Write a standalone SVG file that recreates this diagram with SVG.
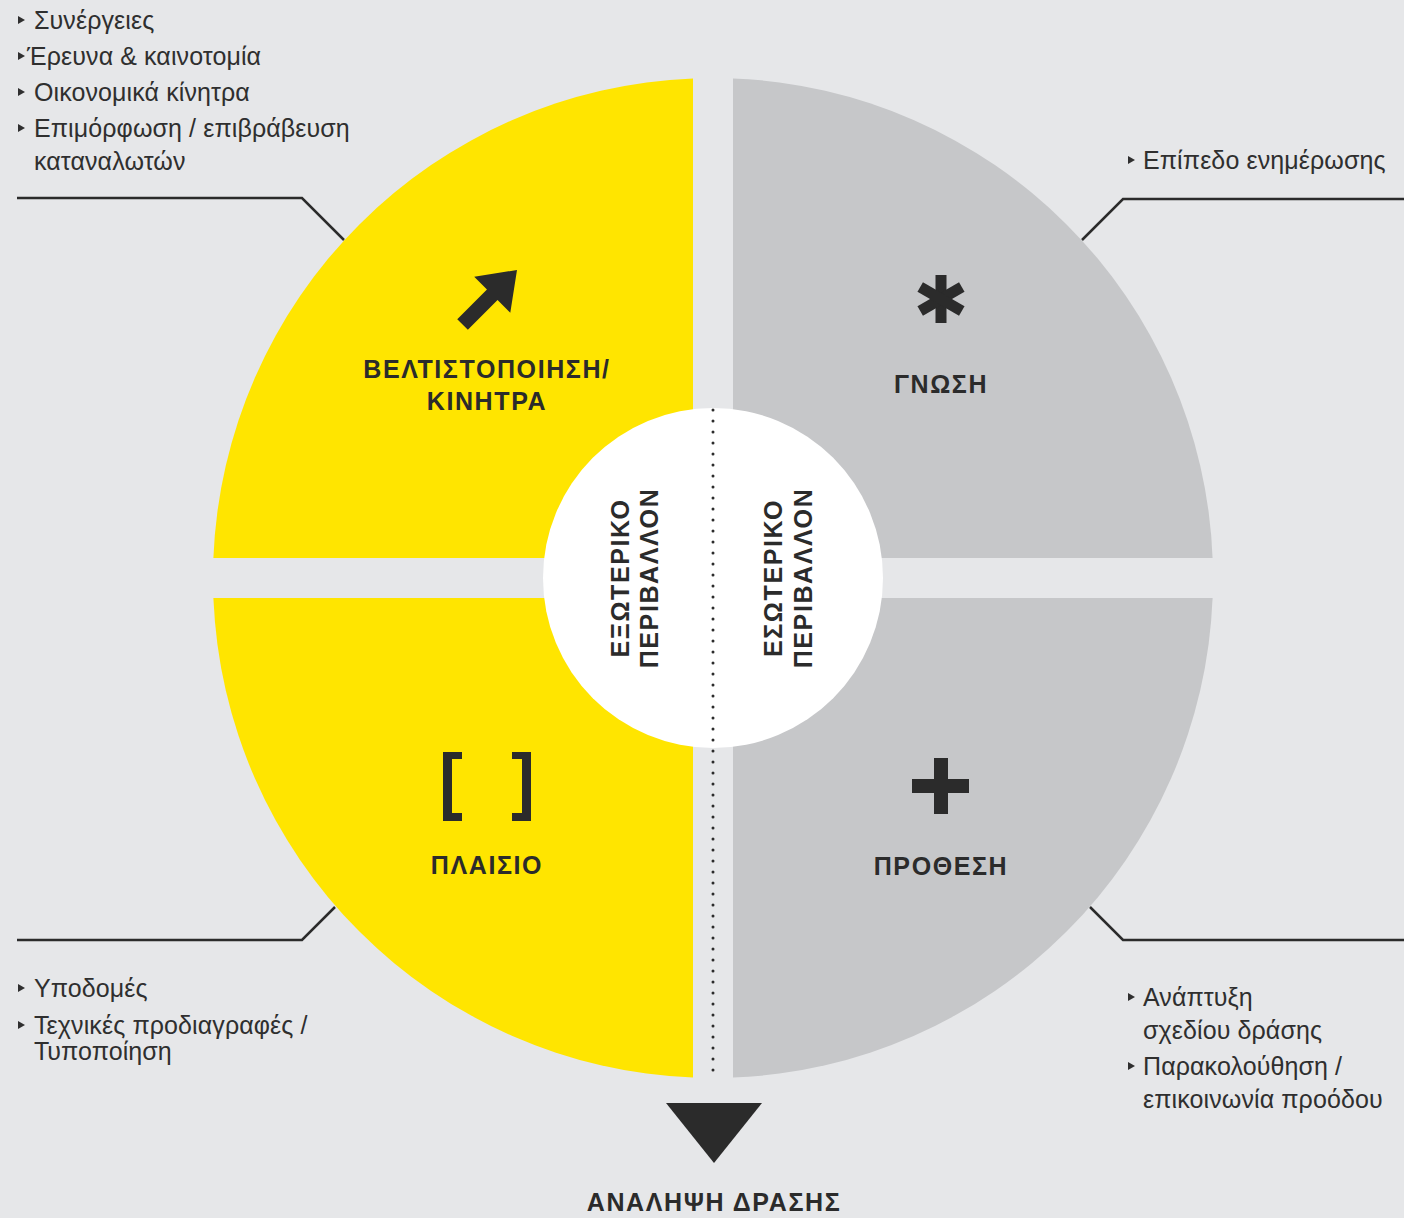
<svg xmlns="http://www.w3.org/2000/svg" width="1404" height="1218" viewBox="0 0 1404 1218">
<style>
.bg{fill:#e6e7e9}
.yel{fill:#ffe500}
.gry{fill:#c6c7c9}
.dark{fill:#2b2b2b}
.txt{font-family:"Liberation Sans",Arial,sans-serif;font-size:25px;fill:#2f2f2f;letter-spacing:0.1px}
.ttl{font-family:"Liberation Sans",Arial,sans-serif;font-size:25px;font-weight:bold;fill:#2b2b2b;letter-spacing:1.6px;text-anchor:middle}
.conn{fill:none;stroke:#2b2b2b;stroke-width:2.5}
</style>
<defs>
<polygon id="bul" points="0,-4 7,0 0,4" fill="#2f2f2f"/>
</defs>
<rect class="bg" x="0" y="0" width="1404" height="1218"/>

<g id="quadrant-optimisation">
<path class="yel" d="M693,558 L693,78.4 A500,500 0 0 0 213.4,558 Z"/>
<polygon class="dark" transform="translate(517,270) rotate(-45)" points="0,0 -35,-25.5 -35,-7.5 -77,-7.5 -77,7.5 -35,7.5 -35,25.5"/>
<text class="ttl" x="487" y="378">ΒΕΛΤΙΣΤΟΠΟΙΗΣΗ/</text>
<text class="ttl" x="487" y="410">ΚΙΝΗΤΡΑ</text>
</g>

<g id="quadrant-knowledge">
<path class="gry" d="M733,558 L733,78.4 A500,500 0 0 1 1212.6,558 Z"/>
<g transform="translate(941,299)">
<rect class="dark" x="-5.5" y="-24" width="11" height="48"/>
<rect class="dark" x="-5.5" y="-24" width="11" height="48" transform="rotate(60)"/>
<rect class="dark" x="-5.5" y="-24" width="11" height="48" transform="rotate(-60)"/>
</g>
<text class="ttl" x="941" y="393">ΓΝΩΣΗ</text>
</g>

<g id="quadrant-framework">
<path class="yel" d="M693,598 L693,1077.6 A500,500 0 0 1 213.4,598 Z"/>
<path class="dark" d="M443,752 L462,752 L462,759 L452,759 L452,813 L462,813 L462,821 L443,821 Z"/>
<path class="dark" d="M531,752 L512,752 L512,759 L522,759 L522,813 L512,813 L512,821 L531,821 Z"/>
<text class="ttl" x="487" y="874">ΠΛΑΙΣΙΟ</text>
</g>

<g id="quadrant-intention">
<path class="gry" d="M733,598 L733,1077.6 A500,500 0 0 0 1212.6,598 Z"/>
<rect class="dark" x="912" y="779" width="57" height="14"/>
<rect class="dark" x="934" y="758" width="14" height="56"/>
<text class="ttl" x="941" y="875">ΠΡΟΘΕΣΗ</text>
</g>

<g id="center">
<circle cx="713" cy="578" r="170" fill="#ffffff"/>
<text class="ttl" transform="translate(629,578) rotate(-90)">ΕΞΩΤΕΡΙΚΟ</text>
<text class="ttl" transform="translate(658,578) rotate(-90)">ΠΕΡΙΒΑΛΛΟΝ</text>
<text class="ttl" transform="translate(782,578) rotate(-90)">ΕΣΩΤΕΡΙΚΟ</text>
<text class="ttl" transform="translate(812,578) rotate(-90)">ΠΕΡΙΒΑΛΛΟΝ</text>
</g>

<g id="connectors">
<line x1="713" y1="410" x2="713" y2="1078" stroke="#2b2b2b" stroke-width="3" stroke-linecap="round" stroke-dasharray="0 11"/>
<polyline class="conn" points="17,198 302,198 344,240"/>
<polyline class="conn" points="1404,199 1123,199 1082,240"/>
<polyline class="conn" points="17,940 302,940 335,907"/>
<polyline class="conn" points="1404,940 1123,940 1090,907"/>
</g>

<g id="action">
<polygon class="dark" points="666,1103 762,1103 714,1163"/>
<text class="ttl" x="714" y="1211">ΑΝΑΛΗΨΗ ΔΡΑΣΗΣ</text>
</g>

<g id="list-top-left">
<use href="#bul" x="18" y="20"/>
<text class="txt" x="34" y="29">Συνέργειες</text>
<use href="#bul" x="18" y="56"/>
<text class="txt" x="27" y="65">Έρευνα &amp; καινοτομία</text>
<use href="#bul" x="18" y="92"/>
<text class="txt" x="34" y="101">Οικονομικά κίνητρα</text>
<use href="#bul" x="18" y="128"/>
<text class="txt" x="34" y="137">Επιμόρφωση / επιβράβευση</text>
<text class="txt" x="34" y="170">καταναλωτών</text>
</g>

<g id="list-top-right">
<use href="#bul" x="1128" y="160"/>
<text class="txt" x="1143" y="169">Επίπεδο ενημέρωσης</text>
</g>

<g id="list-bottom-left">
<use href="#bul" x="18" y="988"/>
<text class="txt" x="34" y="997">Υποδομές</text>
<use href="#bul" x="18" y="1025"/>
<text class="txt" x="34" y="1034">Τεχνικές προδιαγραφές /</text>
<text class="txt" x="34" y="1060">Τυποποίηση</text>
</g>

<g id="list-bottom-right">
<use href="#bul" x="1128" y="997"/>
<text class="txt" x="1143" y="1006">Ανάπτυξη</text>
<text class="txt" x="1143" y="1039">σχεδίου δράσης</text>
<use href="#bul" x="1128" y="1066"/>
<text class="txt" x="1143" y="1075">Παρακολούθηση /</text>
<text class="txt" x="1143" y="1108">επικοινωνία προόδου</text>
</g>
</svg>
